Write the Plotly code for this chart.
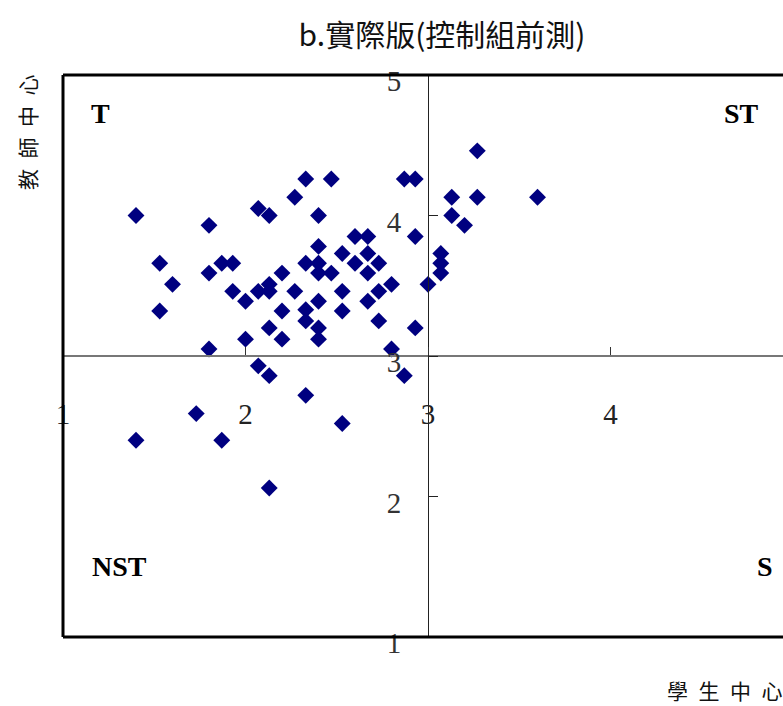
import plotly.graph_objects as go

# ---- data (student-centred score, teacher-centred score) ----
student_centred = [
    1.40, 1.53, 1.60, 1.53, 1.40, 1.80, 1.80, 1.87, 1.93, 1.93,
    1.80, 1.73, 1.87, 2.00, 2.00, 2.07, 2.13, 2.07, 2.13, 2.13,
    2.20, 2.20, 2.13, 2.20, 2.07, 2.13, 2.13, 2.27, 2.33, 2.47,
    2.40, 2.27, 2.33, 2.40, 2.40, 2.40, 2.47, 2.33, 2.33, 2.40,
    2.40, 2.40, 2.33, 2.53, 2.53, 2.53, 2.53, 2.60, 2.60, 2.67,
    2.67, 2.67, 2.67, 2.73, 2.73, 2.73, 2.80, 2.80, 2.87, 2.93,
    2.93, 2.87, 2.93, 3.00, 3.07, 3.07, 3.07, 3.13, 3.13, 3.20,
    3.27, 3.27, 3.60,
]
teacher_centred = [
    4.00, 3.66, 3.51, 3.32, 2.40, 3.93, 3.59, 3.66, 3.66, 3.46,
    3.05, 2.59, 2.40, 3.39, 3.12, 4.05, 4.00, 3.46, 3.51, 3.46,
    3.59, 3.32, 3.20, 3.12, 2.93, 2.86, 2.06, 4.13, 4.26, 4.26,
    4.00, 3.46, 3.66, 3.78, 3.66, 3.59, 3.59, 3.33, 3.25, 3.39,
    3.20, 3.12, 2.72, 2.52, 3.73, 3.46, 3.32, 3.85, 3.66, 3.85,
    3.73, 3.59, 3.39, 3.66, 3.46, 3.25, 3.51, 3.05, 4.26, 4.26,
    3.85, 2.86, 3.20, 3.51, 3.73, 3.66, 3.59, 4.13, 4.00, 3.93,
    4.46, 4.13, 4.13,
]

x_ticks = [1, 2, 3, 4]
y_ticks = [1, 2, 3, 4, 5]
quadrant_labels = ["T", "ST", "NST", "S"]

title_text = "b.實際版(控制組前測)"
x_title = "學\u2002生\u2002中\u2002心"
y_title = "教\u2002師\u2002中\u2002心"

X_MIN, X_MAX = 1, 4.945
Y_MIN, Y_MAX = 1, 5
X_CROSS, Y_CROSS = 3, 3

fig = go.Figure()
fig.add_trace(go.Scatter(
    x=student_centred, y=teacher_centred, mode="markers",
    marker=dict(symbol="diamond", size=13, color="#000080",
                line=dict(width=0)),
    showlegend=False, hoverinfo="x+y",
))

serif = "Liberation Serif, Times New Roman, serif"
cjk = "Noto Sans CJK TC, Noto Sans CJK SC, sans-serif"

fig.update_layout(
    width=783, height=706,
    margin=dict(l=63, r=0, t=75, b=69),
    paper_bgcolor="white", plot_bgcolor="white",
    title=dict(text=title_text, x=442 / 783, xref="container", xanchor="center",
               y=1 - 35 / 706, yref="container", yanchor="middle",
               font=dict(family=cjk, size=30, color="#111")),
    xaxis=dict(
        range=[X_MIN, X_MAX], anchor="free",
        position=(Y_CROSS - Y_MIN) / (Y_MAX - Y_MIN),
        showline=True, linecolor="#777", linewidth=1.5,
        ticks="inside", ticklen=8, tickcolor="#333", tickwidth=1,
        tickvals=x_ticks, ticktext=[str(v) for v in x_ticks],
        ticklabelstandoff=32,
        tickfont=dict(family=serif, size=29, color="#222"),
        showgrid=False, zeroline=False,
    ),
    yaxis=dict(
        range=[Y_MIN, Y_MAX], anchor="free", side="left",
        position=(X_CROSS - X_MIN) / (X_MAX - X_MIN),
        showline=True, linecolor="#222", linewidth=1,
        ticks="inside", ticklen=9, tickcolor="#222", tickwidth=1,
        tickvals=y_ticks, ticktext=[str(v) for v in y_ticks],
        ticklabelstandoff=21, ticklabelshift=6,
        tickfont=dict(family=serif, size=29, color="#333"),
        showgrid=False, zeroline=False,
    ),
)

# frame (left, top, bottom; right edge falls outside the page)
for x0, y0, x1, y1 in [(0, 0, 0, 1), (0, 1, 1, 1), (0, 0, 1, 0)]:
    fig.add_shape(type="line", xref="paper", yref="paper",
                  x0=x0, y0=y0, x1=x1, y1=y1,
                  line=dict(color="black", width=3), layer="above")

# quadrant labels
q_pos = [(0.0514, 0.932), (0.943, 0.932), (0.078, 0.1246), (0.975, 0.1246)]
for txt, (qx, qy) in zip(quadrant_labels, q_pos):
    fig.add_annotation(text="<b>%s</b>" % txt, xref="paper", yref="paper",
                       x=qx, y=qy, showarrow=False, xanchor="center",
                       yanchor="middle",
                       font=dict(family=serif, size=28, color="black"))

# axis titles
fig.add_annotation(text=x_title, xref="paper", yref="paper",
                   x=(725 - 63) / 720, y=(637 - 690) / 562, showarrow=False,
                   xanchor="center", yanchor="middle",
                   font=dict(family=cjk, size=21, color="#111"))
fig.add_annotation(text=y_title, xref="paper", yref="paper",
                   x=(27 - 63) / 720, y=(637 - 132) / 562, showarrow=False,
                   textangle=-90, xanchor="center", yanchor="middle",
                   font=dict(family=cjk, size=21, color="#111"))

fig.write_html("out.html")
